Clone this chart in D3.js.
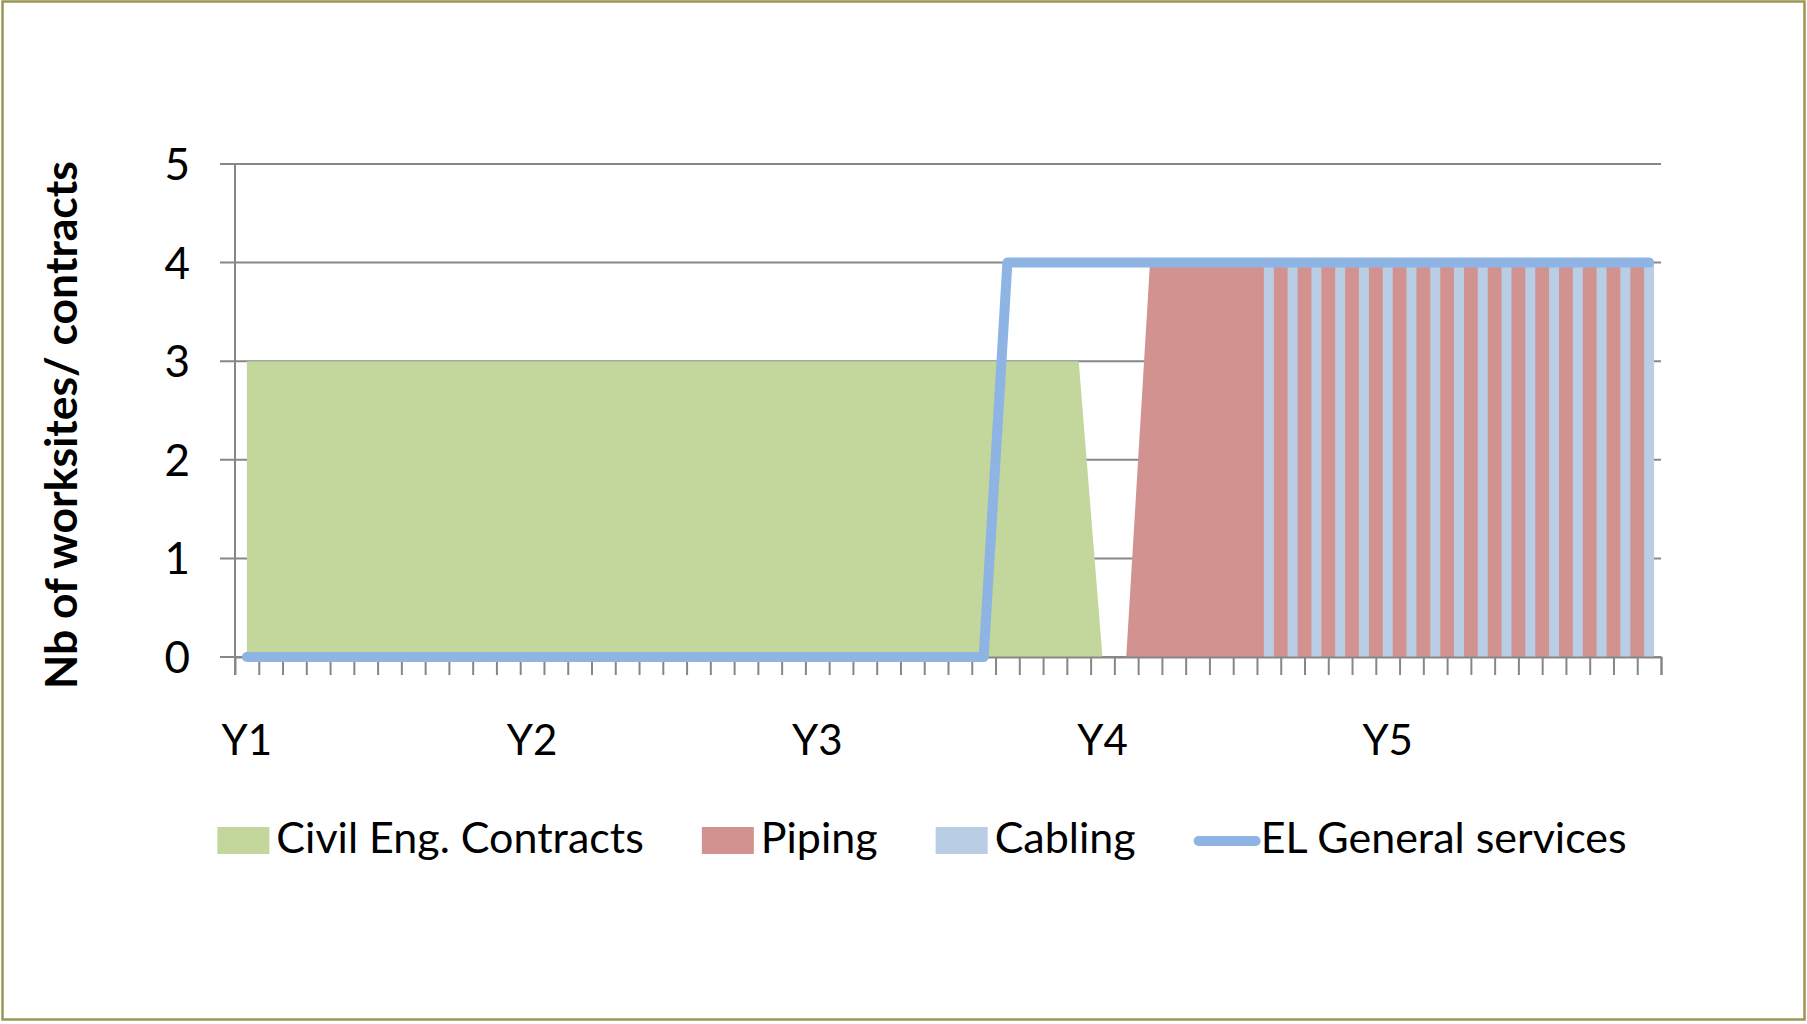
<!DOCTYPE html>
<html>
<head>
<meta charset="utf-8">
<script src="https://cdn.jsdelivr.net/npm/d3@7/dist/d3.min.js"></script>
<style>
    body { margin: 0; background: #fff; }
    svg { display: block; }
    text { font-family: Lato, "Open Sans", sans-serif; fill: #000; }
</style>
</head>
<body>
<svg id="chart"></svg>
<script>
// year labels, one every 12 monthly categories
const yearLabels = ['Y1', 'Y2', 'Y3', 'Y4', 'Y5'];
const categories = yearLabels.flatMap(y => ['Jan', 'Feb', 'Mar', 'Apr', 'May', 'Jun', 'Jul', 'Aug', 'Sep', 'Oct', 'Nov', 'Dec'].map(m => y + ' ' + m));

const civilEng = [
    3, 3, 3, 3, 3, 3, 3, 3, 3, 3, 3, 3,
    3, 3, 3, 3, 3, 3, 3, 3, 3, 3, 3, 3,
    3, 3, 3, 3, 3, 3, 3, 3, 3, 3, 3, 3,
    0, 0, 0, 0, 0, 0, 0, 0, 0, 0, 0, 0,
    0, 0, 0, 0, 0, 0, 0, 0, 0, 0, 0, 0
];
const piping = [
    0, 0, 0, 0, 0, 0, 0, 0, 0, 0, 0, 0,
    0, 0, 0, 0, 0, 0, 0, 0, 0, 0, 0, 0,
    0, 0, 0, 0, 0, 0, 0, 0, 0, 0, 0, 0,
    0, 0, 4, 4, 4, 4, 4, 4, 4, 4, 4, 4,
    4, 4, 4, 4, 4, 4, 4, 4, 4, 4, 4, 4
];
const cabling = [
    0, 0, 0, 0, 0, 0, 0, 0, 0, 0, 0, 0,
    0, 0, 0, 0, 0, 0, 0, 0, 0, 0, 0, 0,
    0, 0, 0, 0, 0, 0, 0, 0, 0, 0, 0, 0,
    0, 0, 0, 0, 0, 0, 0, 4, 4, 4, 4, 4,
    4, 4, 4, 4, 4, 4, 4, 4, 4, 4, 4, 4
];
const elServices = [
    0, 0, 0, 0, 0, 0, 0, 0, 0, 0, 0, 0,
    0, 0, 0, 0, 0, 0, 0, 0, 0, 0, 0, 0,
    0, 0, 0, 0, 0, 0, 0, 0, 4, 4, 4, 4,
    4, 4, 4, 4, 4, 4, 4, 4, 4, 4, 4, 4,
    4, 4, 4, 4, 4, 4, 4, 4, 4, 4, 4, 4
];
const yTicks = [0, 1, 2, 3, 4, 5];

const options = {
    width: 1807,
    height: 1024,
    margin: { top: 164, right: 146, bottom: 367, left: 235 }
};
const colors = { civil: '#c3d69b', piping: '#d29290', cabling: '#b9cde5', line: '#8eb4e3', grid: '#878787' };

let svg = d3.select('#chart')
    .attr('width', options.width)
    .attr('height', options.height);

let x0 = options.margin.left, x1 = options.width - options.margin.right;
let y0 = options.height - options.margin.bottom, y1 = options.margin.top;

let xBand = d3.scaleBand().domain(categories).range([x0, x1]).padding(0);
let xEdge = d3.scaleLinear().domain([0, categories.length]).range([x0, x1]);
let yScale = d3.scaleLinear().domain([0, 5]).range([y0, y1]);
let cx = i => xBand(categories[i]) + xBand.bandwidth() / 2;

// outer border
svg.append('rect')
    .attr('x', 2.5).attr('y', 1.5)
    .attr('width', options.width - 5).attr('height', options.height - 6)
    .attr('fill', 'none')
    .attr('stroke', '#9b9656')
    .attr('stroke-width', 2.5);

// gridlines (extend left as tick marks)
svg.append('g').selectAll('line')
    .data(yTicks)
    .join('line')
    .attr('x1', x0 - 15).attr('x2', x1)
    .attr('y1', d => yScale(d)).attr('y2', d => yScale(d))
    .attr('stroke', colors.grid)
    .attr('stroke-width', 2);

// areas
let areaGen = d3.area()
    .x((d, i) => cx(i))
    .y0(yScale(0))
    .y1(d => yScale(d));
svg.append('path').attr('d', areaGen(civilEng)).attr('fill', colors.civil);
svg.append('path').attr('d', areaGen(piping)).attr('fill', colors.piping);

// cabling columns
let barW = xBand.bandwidth() * 0.42;
svg.append('g').selectAll('rect')
    .data(cabling)
    .join('rect')
    .attr('x', (d, i) => cx(i) - barW / 2)
    .attr('y', d => yScale(d))
    .attr('width', barW)
    .attr('height', d => yScale(0) - yScale(d))
    .attr('fill', colors.cabling);

// axes
let yAxis = d3.axisLeft(yScale).tickValues(yTicks).tickFormat(d3.format('d')).tickSize(0).tickPadding(45);
let yG = svg.append('g').attr('transform', `translate(${x0},0)`).call(yAxis);
yG.select('.domain').remove();
yG.selectAll('text').style('font-size', '44px').attr('dy', '0.35em');

svg.append('line')
    .attr('x1', x0).attr('x2', x0)
    .attr('y1', y1).attr('y2', y0 + 18)
    .attr('stroke', colors.grid).attr('stroke-width', 2);

let xTicks = d3.axisBottom(xEdge).tickValues(d3.range(1, categories.length + 1)).tickSize(18).tickFormat('');
let xG = svg.append('g').attr('transform', `translate(0,${y0})`).call(xTicks);
xG.select('.domain').attr('stroke', colors.grid).attr('stroke-width', 2);
xG.selectAll('.tick line').attr('stroke', colors.grid).attr('stroke-width', 2);

let xLabels = d3.axisBottom(xBand)
    .tickValues(categories.filter((c, i) => i % 12 === 0))
    .tickSize(0)
    .tickFormat(c => c.split(' ')[0]);
let xlG = svg.append('g').attr('transform', `translate(0,${y0})`).call(xLabels);
xlG.select('.domain').remove();
xlG.selectAll('text').style('font-size', '42px').attr('y', 98).attr('dy', 0);

// line
let lineGen = d3.line()
    .x((d, i) => cx(i))
    .y(d => yScale(d));
svg.append('path')
    .attr('d', lineGen(elServices))
    .attr('fill', 'none')
    .attr('stroke', colors.line)
    .attr('stroke-width', 10)
    .attr('stroke-linecap', 'round')
    .attr('stroke-linejoin', 'round');

// y title
svg.append('text')
    .attr('transform', 'translate(77,425) rotate(-90)')
    .attr('text-anchor', 'middle')
    .style('font-size', '44.5px')
    .style('font-weight', 'bold')
    .text('Nb of worksites/ contracts');

// legend
let legendItems = [
    { name: 'Civil Eng. Contracts', color: colors.civil, type: 'box' },
    { name: 'Piping', color: colors.piping, type: 'box' },
    { name: 'Cabling', color: colors.cabling, type: 'box' },
    { name: 'EL General services', color: colors.line, type: 'line' }
];
let legend = svg.append('g');
let lx = 0;
legendItems.forEach(item => {
    let g = legend.append('g').attr('transform', `translate(${lx},0)`);
    if (item.type === 'box') {
        g.append('rect').attr('x', 0).attr('y', 827).attr('width', 52).attr('height', 27).attr('fill', item.color);
    } else {
        g.append('line').attr('x1', 5).attr('x2', 62).attr('y1', 841).attr('y2', 841)
            .attr('stroke', item.color).attr('stroke-width', 10).attr('stroke-linecap', 'round');
    }
    let tx = item.type === 'box' ? 59 : 67;
    let t = g.append('text').attr('x', tx).attr('y', 853).style('font-size', '43px').text(item.name);
    lx += tx + t.node().getComputedTextLength() + 58;
});
let legendW = lx - 58;
legend.attr('transform', `translate(${922 - legendW / 2},0)`);
</script>
</body>
</html>
